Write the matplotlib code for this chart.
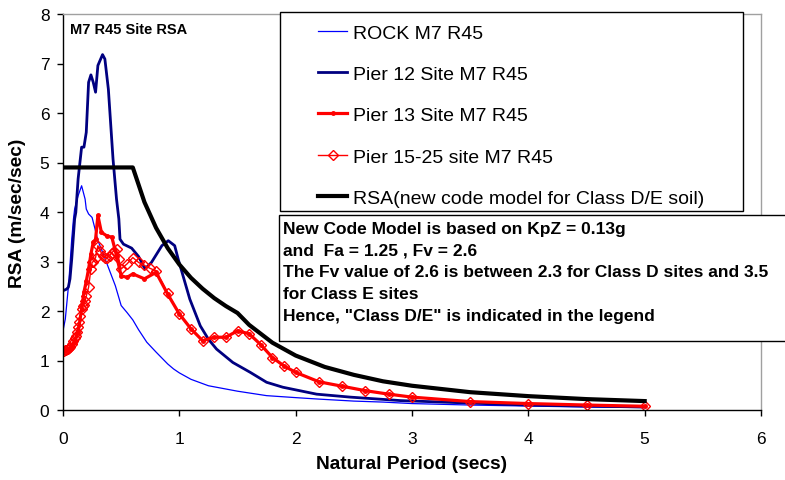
import matplotlib
matplotlib.use("Agg")
import matplotlib.pyplot as plt
from matplotlib.patches import Rectangle

plt.rcParams['font.family'] = ['Liberation Sans', 'DejaVu Sans']

# ROCK M7 R45
rock_t = [0.0, 0.02, 0.05, 0.075, 0.09, 0.10, 0.13, 0.16, 0.19, 0.20, 0.22, 0.25, 0.275,
          0.30, 0.33, 0.39, 0.45, 0.50, 0.55, 0.60, 0.65, 0.72, 0.80, 0.90, 0.95, 1.0,
          1.1, 1.25, 1.5, 1.75, 2.0, 2.2, 2.5, 2.75, 3.0, 3.5, 4.0, 4.5, 5.0]
rock_v = [1.60, 1.84, 2.58, 3.45, 3.86, 4.06, 4.33, 4.53, 4.26, 4.06, 3.96, 3.89, 3.66,
          3.42, 3.25, 2.88, 2.51, 2.11, 1.97, 1.82, 1.62, 1.37, 1.17, 0.93, 0.83, 0.75,
          0.62, 0.49, 0.38, 0.29, 0.25, 0.22, 0.18, 0.16, 0.13, 0.10, 0.08, 0.06, 0.05]

# Pier 12 Site M7 R45
p12_t = [0.0, 0.03, 0.046, 0.06, 0.075, 0.10, 0.11, 0.13, 0.16, 0.18, 0.20, 0.22, 0.24,
         0.26, 0.28, 0.30, 0.34, 0.36, 0.39, 0.43, 0.46, 0.48, 0.49, 0.52, 0.59, 0.65,
         0.705, 0.76, 0.85, 0.905, 0.96, 0.99, 1.09, 1.18, 1.25, 1.32, 1.46, 1.61, 1.75,
         1.89, 2.18, 2.47, 2.90, 3.5, 4.0, 4.5, 5.0]
p12_v = [2.41, 2.44, 2.48, 2.65, 3.05, 3.86, 3.99, 4.67, 5.31, 5.31, 5.61, 6.62, 6.77,
         6.62, 6.42, 6.96, 7.18, 7.09, 6.48, 5.07, 4.26, 3.86, 3.45, 3.35, 3.27, 3.10,
         2.85, 2.98, 3.32, 3.42, 3.32, 3.05, 2.24, 1.70, 1.43, 1.23, 0.96, 0.76, 0.56,
         0.46, 0.32, 0.26, 0.19, 0.14, 0.10, 0.08, 0.06]

# Pier 13 Site M7 R45
p13_t = [0.0, 0.02, 0.05, 0.075, 0.10, 0.13, 0.16, 0.18, 0.20, 0.22, 0.24, 0.26, 0.28,
         0.30, 0.33, 0.375, 0.42, 0.46, 0.50, 0.55, 0.60, 0.70, 0.80, 0.90, 1.0, 1.1,
         1.2, 1.3, 1.4, 1.5, 1.6, 1.7, 1.8, 1.9, 2.0, 2.2, 2.4, 2.6, 2.8, 3.0, 3.5, 4.0,
         4.5, 5.0]
p13_v = [1.20, 1.20, 1.24, 1.28, 1.37, 1.57, 2.04, 2.38, 2.60, 2.85, 3.15, 3.39, 3.45,
         3.93, 3.59, 3.52, 3.49, 3.12, 2.71, 2.68, 2.75, 2.65, 2.78, 2.34, 1.94, 1.64,
         1.40, 1.47, 1.47, 1.60, 1.54, 1.32, 1.06, 0.89, 0.76, 0.57, 0.48, 0.39, 0.32,
         0.26, 0.17, 0.13, 0.10, 0.075]

# Pier 15-25 site M7 R45
p15_t = [0.01, 0.02, 0.03, 0.04, 0.05, 0.06, 0.075, 0.09, 0.10, 0.11, 0.12, 0.13, 0.14,
         0.15, 0.16, 0.17, 0.18, 0.19, 0.20, 0.22, 0.24, 0.25, 0.26, 0.28, 0.30, 0.32,
         0.34, 0.36, 0.38, 0.40, 0.42, 0.44, 0.46, 0.48, 0.50, 0.55, 0.60, 0.65, 0.70,
         0.75, 0.80, 0.90, 1.0, 1.1, 1.2, 1.3, 1.4, 1.5, 1.6, 1.7, 1.8, 1.9, 2.0, 2.2,
         2.4, 2.6, 2.8, 3.0, 3.5, 4.0, 4.5, 5.0]
p15_v = [1.20, 1.21, 1.22, 1.24, 1.26, 1.28, 1.33, 1.40, 1.45, 1.50, 1.58, 1.68, 1.77,
         1.90, 2.04, 2.10, 2.12, 2.20, 2.30, 2.48, 2.85, 2.98, 3.00, 3.08, 3.32, 3.22,
         3.12, 3.08, 3.08, 3.12, 3.18, 3.22, 3.25, 3.05, 2.85, 2.95, 3.08, 2.98, 2.92,
         2.86, 2.81, 2.36, 1.94, 1.64, 1.40, 1.47, 1.47, 1.60, 1.54, 1.32, 1.06, 0.89,
         0.76, 0.57, 0.48, 0.39, 0.32, 0.26, 0.17, 0.13, 0.10, 0.075]

# RSA (new code model for Class D/E soil)
code_t = [0.0, 0.6, 0.7, 0.8, 0.9, 1.0, 1.1, 1.2, 1.3, 1.4, 1.5, 1.6, 1.8, 2.0, 2.25,
          2.5, 2.75, 3.0, 3.5, 4.0, 4.5, 5.0]
code_v = [4.90, 4.90, 4.20, 3.68, 3.27, 2.94, 2.67, 2.45, 2.26, 2.10, 1.96, 1.72, 1.36,
          1.10, 0.87, 0.71, 0.58, 0.49, 0.36, 0.28, 0.22, 0.18]

labels = ["ROCK M7 R45", "Pier 12 Site M7 R45", "Pier 13 Site M7 R45",
          "Pier 15-25 site M7 R45", "RSA(new code model for Class D/E soil)"]

note = ("New Code Model is based on KpZ = 0.13g\n"
        "and  Fa = 1.25 , Fv = 2.6\n"
        "The Fv value of 2.6 is between 2.3 for Class D sites and 3.5\n"
        "for Class E sites\n"
        "Hence, \"Class D/E\" is indicated in the legend")

W, H = 785, 481


def fx(px):
    return px / W


def fy(py):
    return 1 - py / H


fig = plt.figure(figsize=(W / 100, H / 100), dpi=100)
ax = fig.add_axes([fx(63), fy(411), fx(761) - fx(63), fy(15) - fy(411)])

l1, = ax.plot(rock_t, rock_v, color='#0000ff', lw=0.9)
l2, = ax.plot(p12_t, p12_v, color='#000080', lw=2.0)
l3, = ax.plot(p13_t, p13_v, color='#ff0000', lw=2.3, marker='o', ms=2.5)
l4, = ax.plot(p15_t, p15_v, color='#ff0000', lw=1.0, marker='D', ms=5.5,
              mfc='none', mec='#ff0000', mew=1.0)
l5, = ax.plot(code_t, code_v, color='black', lw=3.0)

ax.set_xlim(0, 6)
ax.set_ylim(0, 8)
ax.set_xticks(range(0, 7))
ax.set_yticks(range(0, 9))
ax.tick_params(axis='x', direction='out', length=4.3, width=1, labelsize=12.5, pad=11)
ax.tick_params(axis='y', direction='out', length=4.3, width=1, labelsize=12.5, pad=5.5)
for side in ('top', 'right'):
    ax.spines[side].set_color('#a0a0a0')
    ax.spines[side].set_linewidth(1.0)
for side in ('left', 'bottom'):
    ax.spines[side].set_color('black')
    ax.spines[side].set_linewidth(1.0)

ax.set_xlabel("Natural Period (secs)", fontsize=13.8, fontweight='bold', labelpad=6)
ax.set_ylabel("RSA (m/sec/sec)", fontsize=13.8, fontweight='bold', labelpad=10)

fig.text(fx(70), fy(30), "M7 R45 Site RSA", fontsize=10.5, fontweight='bold', va='center')

# legend box
fig.add_artist(Rectangle((fx(280), fy(212)), fx(743) - fx(280), fy(13) - fy(212),
                         transform=fig.transFigure, facecolor='white',
                         edgecolor='black', lw=1.0, zorder=3))
leg = fig.legend([l1, l2, l3, l4, l5], labels, loc='upper left',
                 bbox_to_anchor=(fx(318), fy(25)), frameon=False, fontsize=14,
                 handlelength=1.5, handletextpad=0.3, labelspacing=1.22,
                 borderpad=0, borderaxespad=0)
leg.set_zorder(4)

# note box
fig.add_artist(Rectangle((fx(279), fy(342)), fx(800) - fx(279), fy(216) - fy(342),
                         transform=fig.transFigure, facecolor='white',
                         edgecolor='black', lw=1.0, zorder=3))
fig.text(fx(283), fy(222), note, fontsize=12.5, fontweight='bold', va='top',
         ha='left', linespacing=1.56, zorder=4)

fig.savefig("out.png", dpi=100)
